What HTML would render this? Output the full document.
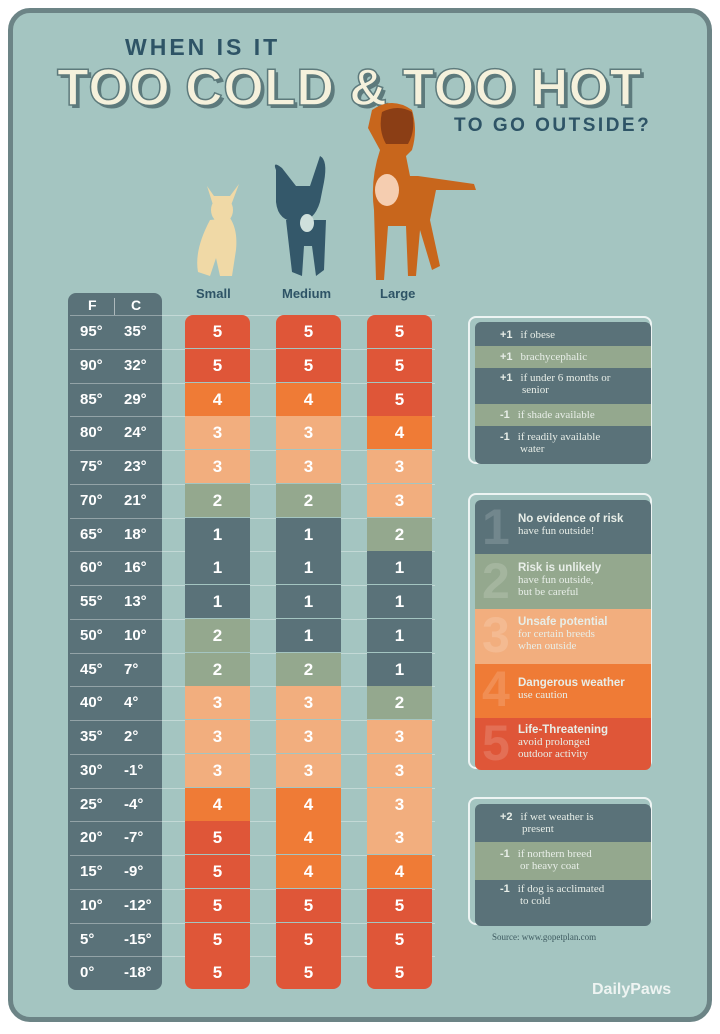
<!DOCTYPE html><html><head><style>
body{margin:0;width:720px;height:1034px;background:#fff;font-family:"Liberation Sans",sans-serif;position:relative;overflow:hidden}
.card{position:absolute;left:8px;top:8px;width:694px;height:1004px;border:5px solid #6c8486;border-radius:22px;background:#a4c5c1}
.a{position:absolute}
.fc{position:absolute;left:68px;top:293px;width:94px;height:697px;background:#5a7279;border-radius:8px}
.t{position:absolute;color:#fff;font-weight:bold;font-size:15px}
.cell{position:absolute;width:65px;color:#fff;font-weight:bold;font-size:17px;text-align:center}
.line{position:absolute;left:70px;width:365px;height:1px;background:rgba(255,255,255,.35)}
.box{position:absolute;border:2px solid rgba(255,255,255,.8);border-radius:8px}
.r{position:absolute;font-family:"Liberation Serif",serif;font-size:11px;color:#e8eee8}
.r b{font-family:"Liberation Sans",sans-serif;margin-right:8px}
</style></head><body>
<div class="card"></div>
<div class="a" style="left:125px;top:34px;font-size:23px;font-weight:bold;letter-spacing:3px;color:#2e5466">WHEN IS IT</div>
<div class="a" style="left:57px;top:58px;font-size:52px;font-weight:bold;letter-spacing:0.5px;color:#f5f1dc;-webkit-text-stroke:1.5px #5d7a7c;text-shadow:3px 3px 0 #5d7a7c;white-space:nowrap">TOO COLD &amp; TOO HOT</div>
<svg class="a" style="left:0;top:0" width="720" height="300">
<g fill="#f0d9a6"><path d="M207 186 l7 22 l16 0 l9 -24 l-9 12 l-16 0z"/><ellipse cx="222" cy="210" rx="11" ry="13"/><path d="M210 220 q-16 30 -12 52 l12 4 l6 -18 l4 18 l12 0 l4 -26 q2 -20 -6 -32z"/></g>
<g fill="#34586a"><path d="M276 170 q-4 -10 6 -2 l14 18 l14 0 l10 -30 q8 4 4 26 l-4 20 q-6 20 -22 20 q-20 0 -22 -20z"/><path d="M286 220 l40 0 l-2 50 l-8 6 l-4 -30 l-8 0 l-2 30 l-10 -4 z"/></g>
<ellipse cx="307" cy="223" rx="7" ry="9" fill="#cfe0dc"/>
<g fill="#c8661c"><path d="M372 110 q20 -14 40 0 q6 20 0 40 l-6 6 l4 20 l8 0 l56 8 l2 6 l-40 0 l-6 30 l10 46 l-8 4 l-12 -40 l-4 46 l-8 0 l-2 -50 l-18 0 l-4 54 l-8 0 l-2 -70 q-4 -30 6 -60 l-12 -22z"/></g>
<path d="M382 112 q16 -8 30 0 q4 18 -4 32 l-22 0 q-8 -14 -4 -32z" fill="#8b3e15"/>
<ellipse cx="387" cy="190" rx="12" ry="16" fill="#f5cdb0"/>
</svg>
<div class="a" style="left:454px;top:115px;font-size:19px;font-weight:bold;letter-spacing:2.5px;color:#2e5466">TO GO OUTSIDE?</div>
<div class="a" style="left:196px;top:286px;font-size:13px;font-weight:bold;color:#2e5466">Small</div>
<div class="a" style="left:282px;top:286px;font-size:13px;font-weight:bold;color:#2e5466">Medium</div>
<div class="a" style="left:380px;top:286px;font-size:13px;font-weight:bold;color:#2e5466">Large</div>
<div class="fc"></div>
<div class="a" style="left:114px;top:298px;width:1px;height:17px;background:rgba(255,255,255,.5)"></div>
<div class="t" style="left:88px;top:297px;font-size:14px">F</div><div class="t" style="left:131px;top:297px;font-size:14px">C</div>
<div id="g"></div>
<div class="box" style="left:468px;top:316px;width:180px;height:144px"></div>
<div class="a" style="left:475px;top:322px;width:176px;height:142px;border-radius:6px;overflow:hidden">
<div style="height:24px;background:#5a7279"></div><div style="height:22px;background:#94a88e"></div><div style="height:36px;background:#5a7279"></div><div style="height:22px;background:#94a88e"></div><div style="height:38px;background:#5a7279"></div></div>
<div class="r" style="left:500px;top:329px"><b>+1</b>if obese</div>
<div class="r" style="left:500px;top:351px"><b>+1</b>brachycephalic</div>
<div class="r" style="left:500px;top:372px;width:150px"><b>+1</b>if under 6 months or<br><span style="margin-left:22px">senior</span></div>
<div class="r" style="left:500px;top:409px"><b>-1</b>if shade available</div>
<div class="r" style="left:500px;top:431px"><b>-1</b>if readily available<br><span style="margin-left:20px">water</span></div>
<div class="box" style="left:468px;top:493px;width:180px;height:272px"></div>
<div class="a" style="left:475px;top:500px;width:176px;height:270px;border-radius:6px;overflow:hidden">
<div style="height:54px;background:#5a7279"></div><div style="height:55px;background:#94a88e"></div><div style="height:55px;background:#f2ae7e"></div><div style="height:54px;background:#ef7b36"></div><div style="height:52px;background:#df5638"></div></div>
<div class="a" style="left:482px;top:500px;font-size:50px;font-weight:bold;color:rgba(255,255,255,.15);line-height:54px">1<br>2<br>3<br>4<br>5</div>
<div class="r" style="left:518px;top:513px"><b style="font-size:11.5px">No evidence of risk</b><br>have fun outside!</div>
<div class="r" style="left:518px;top:562px"><b style="font-size:11.5px">Risk is unlikely</b><br>have fun outside,<br>but be careful</div>
<div class="r" style="left:518px;top:616px"><b style="font-size:11.5px">Unsafe potential</b><br>for certain breeds<br>when outside</div>
<div class="r" style="left:518px;top:677px"><b style="font-size:11.5px">Dangerous weather</b><br>use caution</div>
<div class="r" style="left:518px;top:724px"><b style="font-size:11.5px">Life-Threatening</b><br>avoid prolonged<br>outdoor activity</div>
<div class="box" style="left:468px;top:797px;width:180px;height:124px"></div>
<div class="a" style="left:475px;top:804px;width:176px;height:122px;border-radius:6px;overflow:hidden">
<div style="height:38px;background:#5a7279"></div><div style="height:38px;background:#94a88e"></div><div style="height:46px;background:#5a7279"></div></div>
<div class="r" style="left:500px;top:811px"><b>+2</b>if wet weather is<br><span style="margin-left:22px">present</span></div>
<div class="r" style="left:500px;top:848px"><b>-1</b>if northern breed<br><span style="margin-left:20px">or heavy coat</span></div>
<div class="r" style="left:500px;top:883px"><b>-1</b>if dog is acclimated<br><span style="margin-left:20px">to cold</span></div>
<div class="r" style="left:492px;top:932px;font-size:9px;color:#3e5a60">Source: www.gopetplan.com</div>
<div class="a" style="left:592px;top:981px;font-size:16px;font-weight:bold;color:#eef4f2">DailyPaws</div>
<script>
var F=[95,90,85,80,75,70,65,60,55,50,45,40,35,30,25,20,15,10,5,0],C=[35,32,29,24,23,21,18,16,13,10,7,4,2,-1,-4,-7,-9,-12,-15,-18];
var S=[5,5,4,3,3,2,1,1,1,2,2,3,3,3,4,5,5,5,5,5],M=[5,5,4,3,3,2,1,1,1,1,2,3,3,3,4,4,4,5,5,5],L=[5,5,5,4,3,3,2,1,1,1,1,2,3,3,3,3,4,5,5,5];
var col={1:"#5a7279",2:"#94a88e",3:"#f2ae7e",4:"#ef7b36",5:"#df5638"};
var h="",y0=315,rh=33.75;
for(var i=0;i<20;i++){var y=y0+i*rh;
h+='<div class="line" style="top:'+Math.round(y)+'px"></div>';
h+='<div class="t" style="left:80px;top:'+Math.round(y+8)+'px">'+F[i]+'°</div><div class="t" style="left:124px;top:'+Math.round(y+8)+'px">'+C[i]+'°</div>';
[[185,S],[276,M],[367,L]].forEach(function(c){var r=(i==0?'border-radius:8px 8px 0 0;':i==19?'border-radius:0 0 8px 8px;':'');
h+='<div class="cell" style="left:'+c[0]+'px;top:'+Math.round(y)+'px;height:'+(Math.round(rh)-1)+'px;line-height:'+(Math.round(rh)-1)+'px;background:'+col[c[1][i]]+';'+r+'">'+c[1][i]+'</div>';});}
document.getElementById("g").innerHTML=h;
</script>
</body></html>
